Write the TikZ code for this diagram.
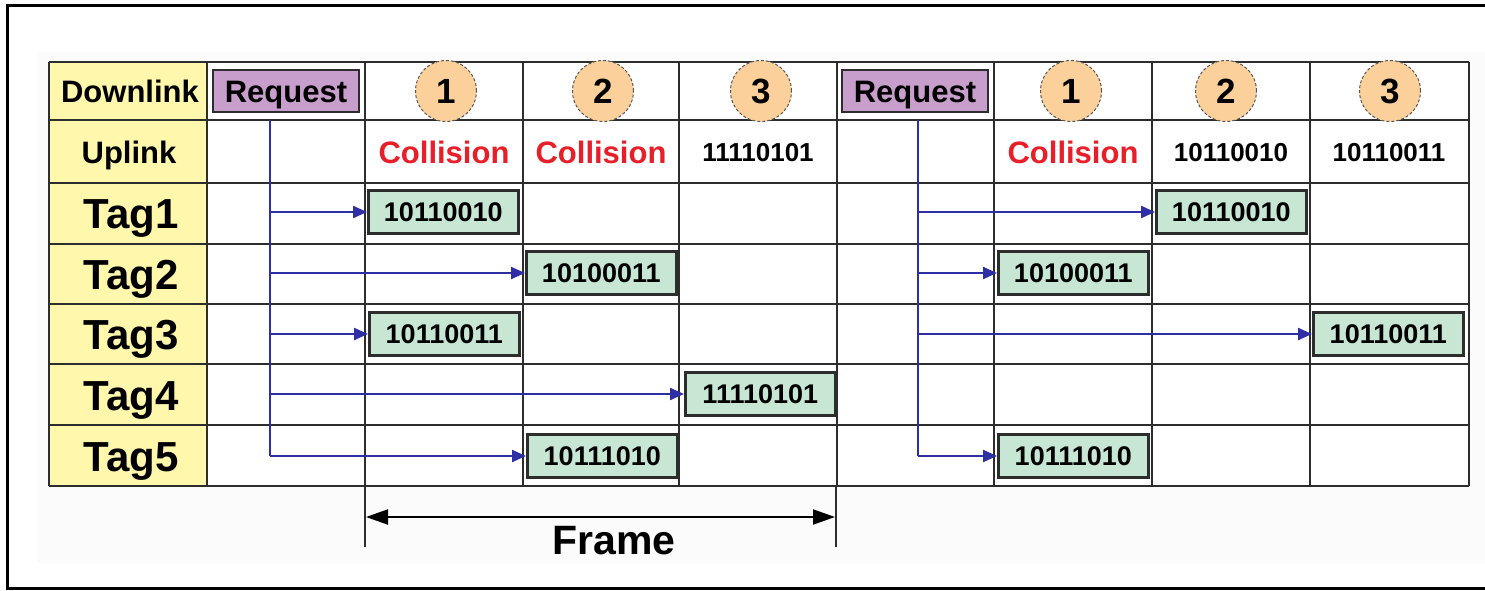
\documentclass[tikz,border=0pt]{standalone}
\usepackage{fontspec}
\setmainfont{Liberation Sans}
\usetikzlibrary{arrows.meta}
\definecolor{cellyellow}{RGB}{255,247,172}
\definecolor{boxgreen}{RGB}{200,230,212}
\definecolor{reqpurple}{RGB}{200,158,204}
\definecolor{slotorange}{RGB}{251,208,154}
\definecolor{collred}{RGB}{232,30,40}
\definecolor{linkblue}{RGB}{46,46,165}
\definecolor{gridc}{RGB}{45,45,45}
\definecolor{bgc}{RGB}{251,251,251}
\newcommand\fsz[1]{\fontsize{#1}{#1}\selectfont}
\begin{document}
\begin{tikzpicture}[x=1pt,y=-1pt,
  gridline/.style={draw=gridc, line width=2.2pt},
  capfit/.style={text height=#1, text depth=0pt},
  tagbox/.style={draw=gridc, line width=2.6pt, fill=boxgreen, minimum width=150pt, minimum height=43pt, inner sep=0pt, capfit=19.5pt, font=\fsz{27}\bfseries, anchor=west},
  reqbox/.style={draw=gridc, line width=2.6pt, fill=reqpurple, minimum width=146pt, minimum height=42pt, inner sep=0pt, capfit=22.3pt, font=\fsz{31}\bfseries},
  slot/.style={circle, draw=gridc!80, densely dashed, line width=1pt, fill=slotorange, minimum size=61pt, inner sep=0pt, capfit=25pt, font=\fsz{35}\bfseries},
  hdr/.style={capfit=22.3pt, font=\fsz{31}\bfseries},
  taglbl/.style={capfit=30.2pt, font=\fsz{42}\bfseries},
  coll/.style={capfit=22.3pt, text=collred, font=\fsz{31}\bfseries},
  code/.style={capfit=18.7pt, font=\fsz{26}\bfseries},
  link/.style={draw=linkblue, line width=2.2pt, -{Triangle[length=14pt,width=12pt]}},
  trunk/.style={draw=linkblue, line width=2.2pt},
  span/.style={draw=black, line width=2pt, {Triangle[length=22pt,width=15pt]}-{Triangle[length=22pt,width=15pt]}}
]
\useasboundingbox (0,0) rectangle (1485,591);
% background
\fill[bgc] (37,52) rectangle (1485,563);
\draw[line width=3pt] (1485,6) -- (7,6) -- (7,588) -- (1485,588);
% table
\fill[white] (49,62) rectangle (1469,486);
\fill[cellyellow] (49,62) rectangle (207,486);
\foreach \x in {49,207,365,523,679,837,994,1152,1310,1469}
  \draw[gridline] (\x,62) -- (\x,486);
\foreach \y in {62,120,183,244,304,364,425,486}
  \draw[gridline] (49,\y) -- (1469,\y);
% row labels
\node[hdr] (dl) at (130,91) {Downlink};
\node[hdr] (ul) at (129,152) {Uplink};
\node[taglbl] (lt1) at (131,213) {Tag1};
\node[taglbl] (lt2) at (131,274) {Tag2};
\node[taglbl] (lt3) at (131,334) {Tag3};
\node[taglbl] (lt4) at (131,395) {Tag4};
\node[taglbl] (lt5) at (131,456) {Tag5};
% downlink row
\node[reqbox] (req1) at (286,91) {Request};
\node[reqbox] (req2) at (915,91) {Request};
\node[slot] (s1a) at (446,91) {1};
\node[slot] (s2a) at (603,91) {2};
\node[slot] (s3a) at (761,91) {3};
\node[slot] (s1b) at (1071,91) {1};
\node[slot] (s2b) at (1226,91) {2};
\node[slot] (s3b) at (1390,91) {3};
% uplink row
\node[coll] (u1a) at (444,152) {Collision};
\node[coll] (u2a) at (601,152) {Collision};
\node[code] (u3a) at (758,152) {11110101};
\node[coll] (u1b) at (1073,152) {Collision};
\node[code] (u2b) at (1231,152) {10110010};
\node[code] (u3b) at (1389,152) {10110011};
% tag replies, frame 1
\node[tagbox] (t1a) at (367,212) {10110010};
\node[tagbox] (t2a) at (525,273) {10100011};
\node[tagbox] (t3a) at (368,334) {10110011};
\node[tagbox] (t4a) at (684,394) {11110101};
\node[tagbox] (t5a) at (526,456) {10111010};
% tag replies, frame 2
\node[tagbox] (t1b) at (1155,212) {10110010};
\node[tagbox] (t2b) at (997,273) {10100011};
\node[tagbox] (t3b) at (1312,334) {10110011};
\node[tagbox] (t5b) at (997,456) {10111010};
% request fan-out, frame 1
\coordinate (tr1) at (270,120);
\draw[trunk] (tr1) -- (tr1 |- t5a.west);
\draw[link] (tr1 |- t1a.west) -- (t1a.west);
\draw[link] (tr1 |- t2a.west) -- (t2a.west);
\draw[link] (tr1 |- t3a.west) -- (t3a.west);
\draw[link] (tr1 |- t4a.west) -- (t4a.west);
\draw[link] (tr1 |- t5a.west) -- (t5a.west);
% request fan-out, frame 2
\coordinate (tr2) at (918,120);
\draw[trunk] (tr2) -- (tr2 |- t5b.west);
\draw[link] (tr2 |- t1b.west) -- (t1b.west);
\draw[link] (tr2 |- t2b.west) -- (t2b.west);
\draw[link] (tr2 |- t3b.west) -- (t3b.west);
\draw[link] (tr2 |- t5b.west) -- (t5b.west);
% frame span
\coordinate (fa) at (365,486);
\coordinate (fb) at (836,486);
\coordinate (fa2) at (365,547);
\coordinate (fb2) at (836,547);
\draw[gridline] (fa) -- (fa2);
\draw[gridline] (fb) -- (fb2);
\coordinate (sa) at (366,517);
\coordinate (sb) at (835,517);
\draw[span] (sa) -- (sb);
\node[capfit=29.5pt, font=\fsz{41}\bfseries] (frm) at (614,540) {Frame};
\end{tikzpicture}
\end{document}
